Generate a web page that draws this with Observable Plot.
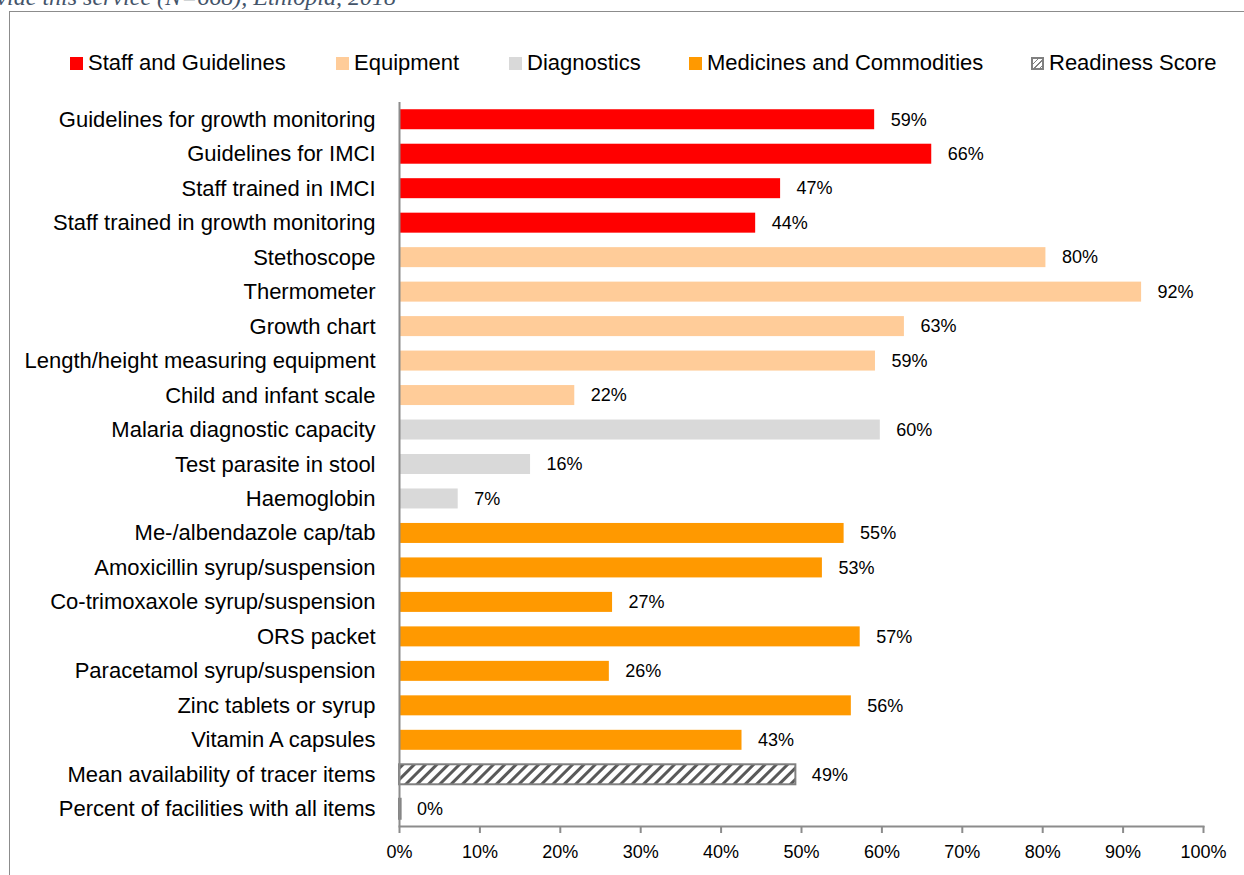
<!DOCTYPE html>
<html>
<head>
<meta charset="utf-8">
<script src="https://cdn.jsdelivr.net/npm/d3@7"></script>
<script src="https://cdn.jsdelivr.net/npm/@observablehq/plot@0.6"></script>
<style>
  html, body { margin: 0; padding: 0; background: #fff; overflow: hidden; }
  #wrap { position: relative; width: 1244px; height: 875px; font-family: "Liberation Sans", Arial, sans-serif; overflow: hidden; }
  #title { position: absolute; left: -36px; top: -15px; line-height: 24px; font-family: "Liberation Serif", "Times New Roman", serif; font-style: italic; font-size: 24px; color: #44546a; white-space: nowrap; }
  #frame { position: absolute; left: 9px; top: 11px; right: -5px; bottom: -5px; border-left: 1.5px solid #8c8c8c; border-top: 1.5px solid #8c8c8c; }
  #legend { position: absolute; top: 50px; left: 0; width: 1244px; height: 30px; }
  .item { position: absolute; top: 0; display: flex; align-items: center; font-size: 22px; color: #000; white-space: nowrap; }
  .sw { width: 13px; height: 13px; margin-right: 5px; box-sizing: border-box; }
  #chart { position: absolute; left: 0; top: 0; }
</style>
</head>
<body>
<div id="wrap">
  <div id="title">provide this service (N=668), Ethiopia, 2018</div>
  <div id="frame"></div>
  <div id="legend"></div>
  <div id="chart"></div>
</div>
<script>
const categories = [
  "Guidelines for growth monitoring",
  "Guidelines for IMCI",
  "Staff trained in IMCI",
  "Staff trained in growth monitoring",
  "Stethoscope",
  "Thermometer",
  "Growth chart",
  "Length/height measuring equipment",
  "Child and infant scale",
  "Malaria diagnostic capacity",
  "Test parasite in stool",
  "Haemoglobin",
  "Me-/albendazole cap/tab",
  "Amoxicillin syrup/suspension",
  "Co-trimoxaxole syrup/suspension",
  "ORS packet",
  "Paracetamol syrup/suspension",
  "Zinc tablets or syrup",
  "Vitamin A capsules",
  "Mean availability of tracer items",
  "Percent of facilities with all items"
];
const values = [59.1, 66.2, 47.4, 44.3, 80.4, 92.3, 62.8, 59.2, 21.8, 59.8, 16.3, 7.3, 55.3, 52.6, 26.5, 57.3, 26.1, 56.2, 42.6, 49.3, 0.2];
const labels = ["59%","66%","47%","44%","80%","92%","63%","59%","22%","60%","16%","7%","55%","53%","27%","57%","26%","56%","43%","49%","0%"];
const groups = [
  "Staff and Guidelines","Staff and Guidelines","Staff and Guidelines","Staff and Guidelines",
  "Equipment","Equipment","Equipment","Equipment","Equipment",
  "Diagnostics","Diagnostics","Diagnostics",
  "Medicines and Commodities","Medicines and Commodities","Medicines and Commodities","Medicines and Commodities","Medicines and Commodities","Medicines and Commodities","Medicines and Commodities",
  "Readiness Score","Readiness Score"
];
const groupNames = ["Staff and Guidelines","Equipment","Diagnostics","Medicines and Commodities","Readiness Score"];
const groupColors = ["#ff0000","#ffcc99","#d9d9d9","#ff9900","url(#hatch)"];
const xTicks = [0,10,20,30,40,50,60,70,80,90,100];

const data = categories.map((c, i) => ({category: c, value: values[i], label: labels[i], group: groups[i]}));
const readiness = data.filter(d => d.group === "Readiness Score");

// legend
const legendLeft = [70, 336, 509, 689, 1031];
const legend = document.getElementById("legend");
groupNames.forEach((g, i) => {
  const it = document.createElement("div");
  it.className = "item";
  it.style.left = legendLeft[i] + "px";
  const sw = document.createElement("div");
  sw.className = "sw";
  if (g === "Readiness Score") {
    sw.style.border = "2px solid #808080";
    sw.style.background = "repeating-linear-gradient(135deg, #fff 0 3px, #808080 3px 4px)";
  } else {
    sw.style.background = groupColors[i];
  }
  it.appendChild(sw);
  const t = document.createElement("span");
  t.textContent = g;
  it.appendChild(t);
  legend.appendChild(it);
});

const plot = Plot.plot({
  width: 1244,
  height: 875,
  marginTop: 102,
  marginBottom: 49,
  marginLeft: 399,
  marginRight: 41,
  style: {fontFamily: "Liberation Sans, Arial, sans-serif", background: "transparent", overflow: "visible"},
  x: {domain: [0, 100]},
  y: {domain: categories, paddingInner: 0.42, paddingOuter: 0.21, round: false},
  color: {domain: groupNames, range: groupColors},
  marks: [
    Plot.barX(data, {y: "category", x: "value", fill: "group"}),
    Plot.barX(readiness, {y: "category", x: "value", fill: "group", stroke: "#808080", strokeWidth: 2}),
    Plot.text(data, {y: "category", x: "value", text: "label", textAnchor: "start", dx: 16, fontSize: 18, fill: "#000"}),
    Plot.ruleX([0], {stroke: "#8c8c8c", strokeWidth: 2}),
    Plot.frame({anchor: "bottom", stroke: "#8c8c8c", strokeWidth: 2}),
    Plot.axisX({ticks: xTicks, tickFormat: d => d + "%", tickSize: 7, tickPadding: 12, fontSize: 18, stroke: "#8c8c8c", strokeWidth: 2, color: "#000", label: null}),
    Plot.axisY({tickSize: 0, tickPadding: 24, fontSize: 22, color: "#000", label: null})
  ]
});
// hatch pattern
const ns = "http://www.w3.org/2000/svg";
const defs = document.createElementNS(ns, "defs");
defs.innerHTML = '<pattern id="hatch" patternUnits="userSpaceOnUse" width="8" height="8" patternTransform="rotate(45)"><rect width="8" height="8" fill="#fff"/><rect x="0" y="0" width="3" height="8" fill="#595959"/></pattern>';
plot.insertBefore(defs, plot.firstChild);
document.getElementById("chart").appendChild(plot);
</script>
</body>
</html>
